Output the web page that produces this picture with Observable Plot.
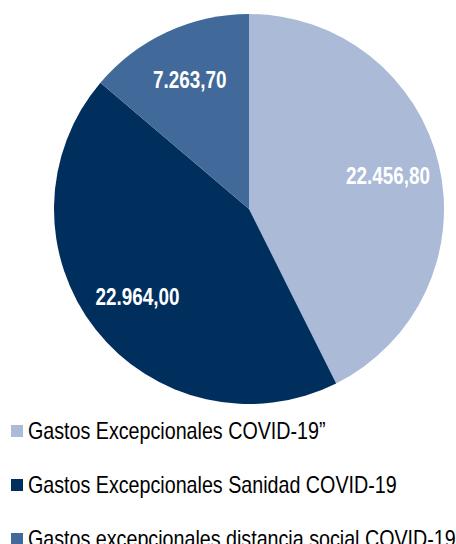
<!DOCTYPE html>
<html><head><meta charset="utf-8">
<script src="https://cdn.jsdelivr.net/npm/d3@7"></script>
<script src="https://cdn.jsdelivr.net/npm/@observablehq/plot@0.6"></script>
<style>
body{margin:0;background:#fff;overflow:hidden;}
#legend{font-family:"Liberation Sans",Arial,sans-serif;font-size:24px;color:#000;}
.row{height:54px;display:flex;align-items:center;white-space:nowrap;}
.sw{width:12px;height:12px;margin-left:11px;margin-right:5px;flex:none;}
.lbl{display:inline-block;transform:scaleX(0.82);transform-origin:0 50%;}
</style></head><body>
<div id="chart"></div><div id="legend"></div>
<script>
const categories = ["Gastos Excepcionales COVID-19\u201d", "Gastos Excepcionales Sanidad COVID-19", "Gastos excepcionales distancia social COVID-19"];
const values = [22456.80, 22964.00, 7263.70];
const colors = ["#AABAD7", "#002F5E", "#416A9A"];

const data = categories.map((c, i) => ({category: c, value: values[i], color: colors[i]}));
const arcs = d3.pie().sort(null).value(d => d.value)(data);
const fmt = d3.formatLocale({decimal: ",", thousands: ".", grouping: [3], currency: ["", "\u20ac"]}).format(",.2f");
const rf = 0.73;
const labels = arcs.map(a => {
  const m = (a.startAngle + a.endAngle) / 2;
  return {x: rf * Math.sin(m), y: rf * Math.cos(m), text: fmt(a.data.value)};
});

function slices(index, scales) {
  const cx = scales.x(0), cy = scales.y(0), r = scales.x(1) - scales.x(0);
  const arc = d3.arc().innerRadius(0).outerRadius(r);
  const g = d3.create("svg:g").attr("transform", `translate(${cx},${cy})`);
  g.selectAll("path").data(arcs).join("path")
    .attr("d", arc).attr("fill", d => d.data.color);
  return g.node();
}

const chart = Plot.plot({
  width: 456, height: 404,
  marginLeft: 54, marginRight: 12, marginTop: 14, marginBottom: 0,
  x: {domain: [-1, 1], axis: null},
  y: {domain: [-1, 1], axis: null},
  marks: [
    slices,
    Plot.text(labels, {x: "x", y: "y", text: "text", fill: "white", fontWeight: "bold", fontSize: 23,
      fontFamily: "'Liberation Sans',Arial,sans-serif"})
  ]
});
document.getElementById("chart").append(chart);
// condense label glyphs (Arial Narrow look)
chart.querySelectorAll("text").forEach(t => {
  const w = t.getComputedTextLength();
  t.setAttribute("textLength", (w * 0.82).toFixed(1));
  t.setAttribute("lengthAdjust", "spacingAndGlyphs");
});

const lg = d3.select("#legend");
data.forEach(d => {
  const row = lg.append("div").attr("class", "row");
  row.append("span").attr("class", "sw").style("background", d.color);
  row.append("span").attr("class", "lbl").text(d.category);
});
</script>
</body></html>
